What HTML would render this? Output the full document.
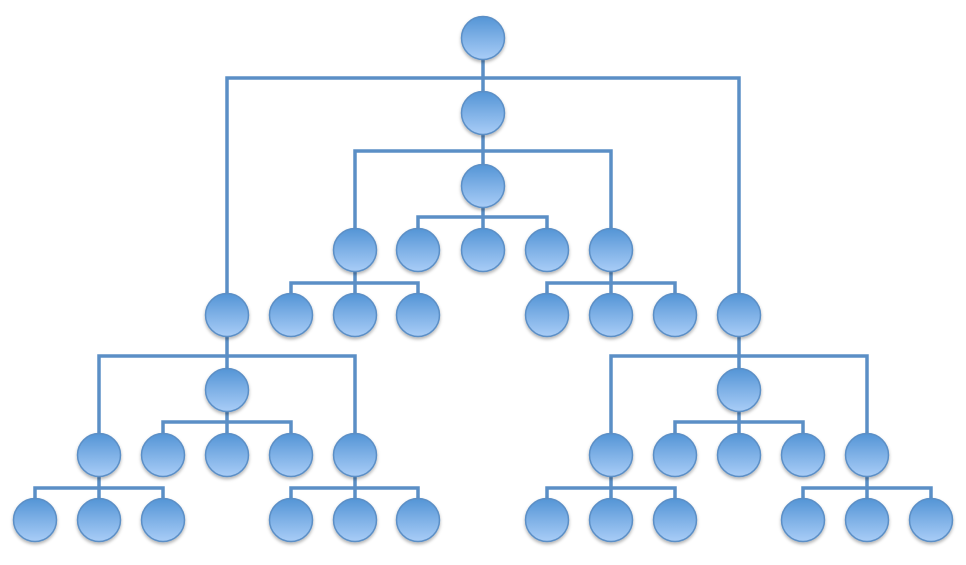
<!DOCTYPE html>
<html><head><style>html,body{margin:0;padding:0;background:#fff}svg{display:block}</style></head>
<body>
<svg width="966" height="565" viewBox="0 0 966 565" xmlns="http://www.w3.org/2000/svg">
<defs>
<linearGradient id="g" x1="0" y1="0" x2="0" y2="1">
<stop offset="0" stop-color="#5495d6"/>
<stop offset="1" stop-color="#a9cdf7"/>
</linearGradient>
<filter id="s" x="-30%" y="-30%" width="160%" height="170%">
<feDropShadow dx="0" dy="2" stdDeviation="1.5" flood-color="#000" flood-opacity="0.3"/>
</filter>
</defs>
<g stroke="#5b8fc6" stroke-width="3.5" fill="none" stroke-linejoin="miter">
<path d="M483 38V250"/>
<path d="M227 315V78H739V315"/>
<path d="M355 250V151H611V250"/>
<path d="M418 250V217H547V250"/>
<path d="M355 250V283 M291 315V283H418V315 M355 283V315"/>
<path d="M611 250V315 M547 315V283H675V315"/>
<path d="M227 315V455 M99 455V356H355V455"/>
<path d="M163 455V422H291V455"/>
<path d="M739 315V455 M611 455V356H867V455"/>
<path d="M675 455V422H803V455"/>
<path d="M99 455V520 M35 520V488H163V520"/>
<path d="M355 455V520 M291 520V488H418V520"/>
<path d="M611 455V520 M547 520V488H675V520"/>
<path d="M867 455V520 M803 520V488H931V520"/>
</g>
<g fill="url(#g)" stroke="#5b8fc6" stroke-width="1.5" filter="url(#s)">
<circle cx="483" cy="38" r="21.5"/>
<circle cx="483" cy="113" r="21.5"/>
<circle cx="483" cy="186" r="21.5"/>
<circle cx="355" cy="250" r="21.5"/><circle cx="418" cy="250" r="21.5"/><circle cx="483" cy="250" r="21.5"/><circle cx="547" cy="250" r="21.5"/><circle cx="611" cy="250" r="21.5"/>
<circle cx="227" cy="315" r="21.5"/><circle cx="291" cy="315" r="21.5"/><circle cx="355" cy="315" r="21.5"/><circle cx="418" cy="315" r="21.5"/><circle cx="547" cy="315" r="21.5"/><circle cx="611" cy="315" r="21.5"/><circle cx="675" cy="315" r="21.5"/><circle cx="739" cy="315" r="21.5"/>
<circle cx="227" cy="390" r="21.5"/><circle cx="739" cy="390" r="21.5"/>
<circle cx="99" cy="455" r="21.5"/><circle cx="163" cy="455" r="21.5"/><circle cx="227" cy="455" r="21.5"/><circle cx="291" cy="455" r="21.5"/><circle cx="355" cy="455" r="21.5"/><circle cx="611" cy="455" r="21.5"/><circle cx="675" cy="455" r="21.5"/><circle cx="739" cy="455" r="21.5"/><circle cx="803" cy="455" r="21.5"/><circle cx="867" cy="455" r="21.5"/>
<circle cx="35" cy="520" r="21.5"/><circle cx="99" cy="520" r="21.5"/><circle cx="163" cy="520" r="21.5"/><circle cx="291" cy="520" r="21.5"/><circle cx="355" cy="520" r="21.5"/><circle cx="418" cy="520" r="21.5"/><circle cx="547" cy="520" r="21.5"/><circle cx="611" cy="520" r="21.5"/><circle cx="675" cy="520" r="21.5"/><circle cx="803" cy="520" r="21.5"/><circle cx="867" cy="520" r="21.5"/><circle cx="931" cy="520" r="21.5"/>
</g>
</svg>
</body></html>
